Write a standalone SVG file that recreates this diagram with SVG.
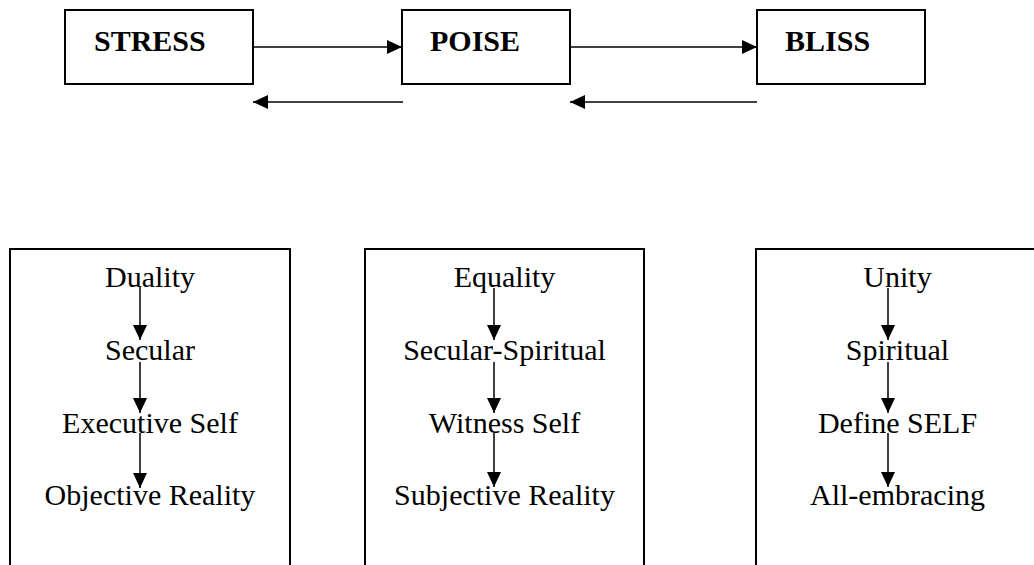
<svg xmlns="http://www.w3.org/2000/svg" width="1034" height="565" viewBox="0 0 1034 565">
<style>
.box{fill:#fff;stroke:#000;stroke-width:2}
.open{fill:none;stroke:#000;stroke-width:2}
.hd{font-family:"Liberation Serif",serif;font-weight:bold;font-size:30px;fill:#000}
.tx{font-family:"Liberation Serif",serif;font-size:30px;fill:#000;text-anchor:middle}
.ln{stroke:#000;stroke-width:1.5;fill:none;marker-end:url(#ah)}
</style>
<defs>
<marker id="ah" markerUnits="userSpaceOnUse" markerWidth="15" markerHeight="14" refX="15" refY="7" orient="auto">
<path d="M0,0 L15,7 L0,14 z" fill="#000"/>
</marker>
</defs>
<rect width="1034" height="565" fill="#fff"/>
<g id="stress"><rect class="box" x="65" y="10" width="188" height="74"/><text class="hd" x="94" y="51">STRESS</text></g>
<g id="poise"><rect class="box" x="402" y="10" width="168" height="74"/><text class="hd" x="430" y="51">POISE</text></g>
<g id="bliss"><rect class="box" x="757" y="10" width="168" height="74"/><text class="hd" x="785" y="51">BLISS</text></g>
<g id="duality-box">
<path class="open" d="M10,566 V249 H290 V566"/>
<text class="tx" x="150" y="287">Duality</text>
<text class="tx" x="150" y="360">Secular</text>
<text class="tx" x="150" y="433">Executive Self</text>
<text class="tx" x="150" y="505">Objective Reality</text>
</g>
<g id="equality-box">
<path class="open" d="M365,566 V249 H644 V566"/>
<text class="tx" x="504.5" y="287">Equality</text>
<text class="tx" x="504.5" y="360">Secular-Spiritual</text>
<text class="tx" x="504.5" y="433">Witness Self</text>
<text class="tx" x="504.5" y="505">Subjective Reality</text>
</g>
<g id="unity-box">
<path class="open" d="M756,566 V249 H1040 V566"/>
<text class="tx" x="897.5" y="287">Unity</text>
<text class="tx" x="897.5" y="360">Spiritual</text>
<text class="tx" x="897.5" y="433">Define SELF</text>
<text class="tx" x="897.5" y="505">All-embracing</text>
</g>
<g id="connectors">
<line class="ln" x1="253" y1="47" x2="402" y2="47"/>
<line class="ln" x1="403" y1="102" x2="253" y2="102"/>
<line class="ln" x1="570" y1="47" x2="757" y2="47"/>
<line class="ln" x1="757" y1="102" x2="570" y2="102"/>
<line class="ln" x1="140" y1="287" x2="140" y2="340"/>
<line class="ln" x1="140" y1="362" x2="140" y2="413"/>
<line class="ln" x1="140" y1="433" x2="140" y2="488"/>
<line class="ln" x1="494" y1="288" x2="494" y2="340"/>
<line class="ln" x1="494" y1="362" x2="494" y2="413"/>
<line class="ln" x1="494" y1="433" x2="494" y2="487"/>
<line class="ln" x1="888" y1="288" x2="888" y2="340"/>
<line class="ln" x1="888" y1="362" x2="888" y2="413"/>
<line class="ln" x1="888" y1="433" x2="888" y2="487"/>
</g>
</svg>
